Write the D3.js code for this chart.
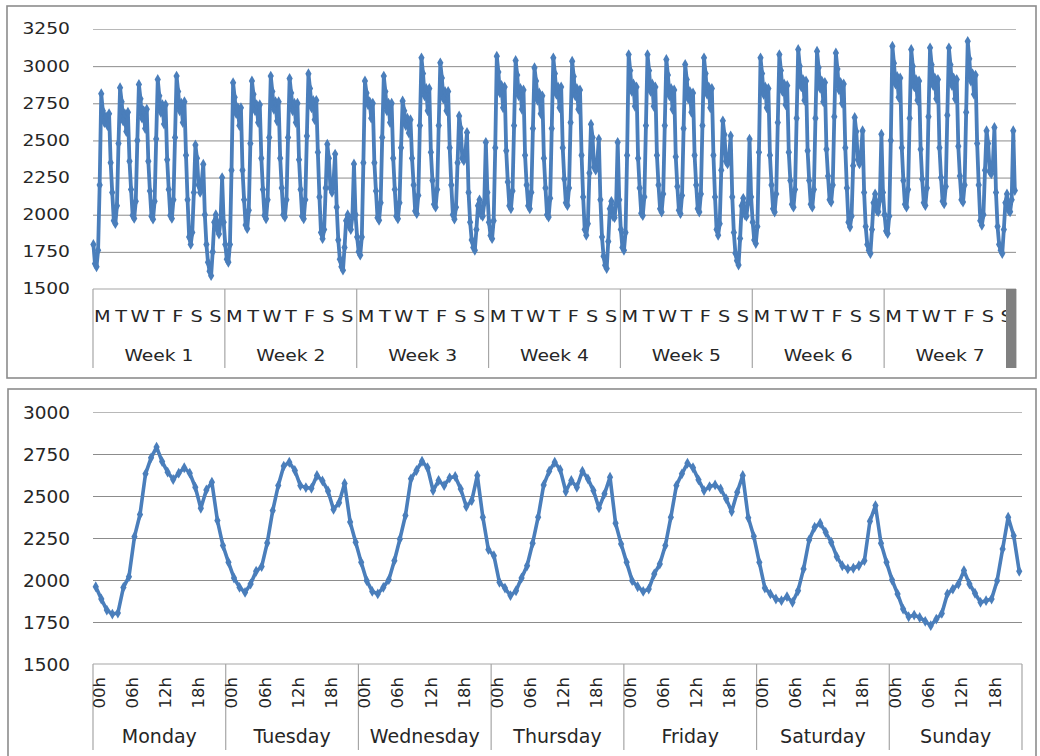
<!DOCTYPE html>
<html>
<head>
<meta charset="utf-8">
<script src="https://cdn.jsdelivr.net/npm/d3@7"></script>
<style>
  html, body { margin: 0; padding: 0; background: #fff; }
  svg { display: block; }
</style>
</head>
<body>
<svg id="chart" width="1040" height="756"></svg>
<script>
// ---------------- DATA ----------------
// Top chart: 7 weeks, 2-hourly samples (00h,02h,...,22h) per day
const topSampleHours = [0, 2, 4, 6, 8, 10, 12, 14, 16, 18, 20, 22];
const weekLabels = ["Week 1", "Week 2", "Week 3", "Week 4", "Week 5", "Week 6", "Week 7"];
const dayLetters = ["M", "T", "W", "T", "F", "S", "S"];
const topYTicks = [1500, 1750, 2000, 2250, 2500, 2750, 3000, 3250];

const week1 = [
  1800,1670,1650,1760,2200,2815,2700,2620,2660,2600,2680,2350,
  2150,1960,1940,2060,2480,2855,2760,2630,2680,2560,2690,2360,
  2170,1995,1975,2090,2500,2877,2780,2650,2700,2580,2710,2360,
  2160,1990,1970,2090,2510,2910,2800,2690,2740,2610,2740,2370,
  2170,1995,1975,2100,2520,2933,2830,2700,2750,2620,2760,2400,
  2100,1850,1800,1880,2150,2470,2380,2200,2150,2220,2340,2000,
  1800,1680,1620,1590,1750,1950,2000,1900,1870,1960,2250,1950
];
const week2 = [
  1800,1700,1680,1800,2300,2888,2790,2680,2720,2600,2720,2300,
  2100,1930,1906,2030,2480,2900,2810,2700,2740,2620,2740,2380,
  2170,1995,1973,2100,2520,2933,2830,2710,2760,2630,2760,2380,
  2180,2000,1984,2100,2520,2917,2820,2700,2750,2620,2750,2370,
  2170,1990,1973,2100,2530,2949,2850,2720,2770,2640,2770,2420,
  2120,1880,1839,1900,2180,2475,2380,2180,2150,2230,2408,2050,
  1830,1700,1650,1627,1780,1960,2000,1920,1900,1990,2342,2000
];
const week3 = [
  1850,1750,1728,1850,2350,2900,2820,2740,2760,2650,2750,2350,
  2160,1980,1962,2080,2520,2933,2830,2700,2750,2620,2750,2380,
  2170,1990,1973,2080,2450,2766,2700,2600,2650,2550,2640,2380,
  2200,2025,2007,2130,2600,3056,2950,2800,2850,2700,2850,2420,
  2230,2070,2051,2170,2600,3022,2920,2780,2830,2700,2830,2450,
  2200,2000,1970,2050,2350,2665,2580,2380,2364,2420,2554,2150,
  1950,1830,1780,1761,1900,2060,2100,2000,1990,2080,2487,2150
];
const week4 = [
  1950,1860,1839,1960,2450,3067,2960,2820,2870,2720,2860,2430,
  2220,2060,2040,2160,2600,3038,2940,2800,2850,2710,2840,2400,
  2200,2060,2040,2150,2580,2989,2900,2770,2820,2680,2800,2380,
  2180,2000,1984,2110,2580,3056,2950,2810,2860,2720,2860,2450,
  2240,2080,2062,2180,2620,3033,2930,2800,2850,2710,2840,2400,
  2120,1900,1862,1940,2280,2609,2520,2320,2300,2360,2509,2100,
  1850,1720,1660,1638,1820,2040,2090,1990,1980,2070,2487,2100
];
const week5 = [
  1900,1780,1761,1880,2400,3078,2970,2830,2880,2730,2860,2380,
  2180,2010,1995,2120,2600,3078,2970,2830,2880,2730,2860,2400,
  2200,2040,2018,2140,2600,3045,2940,2800,2850,2710,2840,2390,
  2190,2030,2007,2130,2580,3011,2910,2780,2830,2690,2820,2400,
  2200,2040,2018,2140,2600,3056,2950,2810,2860,2720,2850,2400,
  2120,1900,1862,1940,2300,2632,2540,2360,2342,2400,2531,2120,
  1880,1740,1690,1661,1840,2060,2110,2000,1990,2080,2509,2120
];
const week6 = [
  1950,1830,1806,1920,2420,3056,2950,2810,2860,2720,2850,2400,
  2200,2040,2018,2140,2620,3078,2970,2830,2880,2740,2870,2420,
  2230,2070,2051,2170,2650,3112,3000,2860,2910,2770,2900,2430,
  2230,2070,2051,2170,2650,3100,2990,2850,2900,2760,2890,2440,
  2260,2100,2085,2200,2660,3089,2980,2840,2890,2750,2880,2450,
  2180,1950,1917,1990,2330,2654,2560,2370,2342,2410,2565,2150,
  1920,1800,1760,1739,1900,2080,2140,2030,2020,2100,2542,2150
];
const week7 = [
  2000,1890,1873,1990,2500,3134,3020,2880,2930,2790,2920,2450,
  2230,2070,2051,2170,2650,3112,3000,2860,2910,2770,2900,2440,
  2240,2080,2062,2180,2660,3123,3010,2870,2920,2780,2910,2450,
  2250,2090,2074,2190,2670,3123,3010,2870,2920,2780,2910,2460,
  2260,2100,2085,2200,2690,3167,3050,2900,2950,2810,2940,2480,
  2200,1960,1929,2000,2300,2565,2480,2290,2275,2340,2587,2150,
  1920,1800,1760,1739,1900,2080,2140,2030,2020,2100,2565,2163
];
const weeks = [week1, week2, week3, week4, week5, week6, week7];

// Bottom chart: one week, hourly
const dayNames = ["Monday", "Tuesday", "Wednesday", "Thursday", "Friday", "Saturday", "Sunday"];
const hourLabels = ["00h", "06h", "12h", "18h"];
const hourLabelHours = [0, 6, 12, 18];
const bottomYTicks = [1500, 1750, 2000, 2250, 2500, 2750, 3000];

const monday    = [1960,1887,1821,1797,1803,1956,2020,2258,2390,2632,2727,2791,2705,2642,2598,2636,2668,2636,2552,2427,2536,2582,2354,2205];
const tuesday   = [2105,2012,1956,1926,1976,2052,2080,2220,2413,2562,2678,2701,2652,2562,2550,2546,2622,2590,2530,2420,2460,2575,2345,2225];
const wednesday = [2105,1996,1932,1917,1956,2002,2115,2244,2384,2602,2652,2707,2668,2532,2592,2562,2608,2616,2542,2437,2473,2622,2374,2181];
const thursday  = [2145,1986,1952,1907,1936,2012,2085,2219,2374,2566,2648,2701,2656,2527,2592,2552,2648,2602,2532,2429,2513,2612,2338,2215];
const friday    = [2105,1996,1960,1932,1946,2036,2095,2205,2374,2562,2632,2695,2668,2596,2532,2556,2566,2542,2483,2407,2523,2622,2370,2260];
const saturday  = [2105,1952,1917,1887,1877,1901,1867,1936,2066,2238,2314,2338,2284,2225,2139,2085,2066,2070,2085,2115,2350,2443,2219,2105];
const sunday    = [2000,1917,1827,1781,1791,1777,1754,1728,1767,1801,1917,1946,1976,2056,1976,1921,1867,1877,1887,1996,2185,2374,2264,2052];
const days = [monday, tuesday, wednesday, thursday, friday, saturday, sunday];

// ---------------- DRAW ----------------
(function () {
const svg = d3.select("#chart");
const FONT = "DejaVu Sans";
const TXT = "#262626";
const LINE = "#4a7ebb";
const GRID = "#8c8c8c";
const AXIS = "#a6a6a6";

svg.append("rect").attr("width", 1040).attr("height", 756).attr("fill", "#fff");

function label(g, x, y, text, size, sx, sy, anchor, dy) {
  return g.append("text")
    .attr("transform", `translate(${x},${y}) scale(${sx},${sy})`)
    .attr("text-anchor", anchor)
    .attr("dy", dy || 0)
    .style("font-family", FONT)
    .style("font-size", size + "px")
    .attr("fill", TXT)
    .text(text);
}

// ===== TOP PANEL =====
const gTop = svg.append("g");
gTop.append("rect").attr("x", 7).attr("y", 6).attr("width", 1029).attr("height", 372)
  .attr("fill", "none").attr("stroke", GRID).attr("stroke-width", 1.6);

const tL = 93, tR = 1016, tT = 29, tB = 289;
const nHoursTop = 7 * 7 * 24;
const xT = d3.scaleLinear().domain([0, nHoursTop]).range([tL, tR]);
const yT = d3.scaleLinear().domain([1500, 3250]).range([tB, tT]);

const gridT = gTop.append("g").attr("transform", `translate(${tL},0)`)
  .call(d3.axisLeft(yT).tickValues(topYTicks.slice(1)).tickSize(-(tR - tL)).tickFormat(""));
gridT.select(".domain").remove();
gridT.selectAll(".tick line").attr("stroke", GRID).attr("stroke-width", 1);
gridT.selectAll(".tick").filter(d => d === 3250).select("line").attr("stroke", "#b8b8b8");

topYTicks.forEach(v => label(gTop, 70, yT(v), String(v), 17, 1.1, 0.89, "end", "0.36em"));

gTop.append("line").attr("x1", tL).attr("x2", tR).attr("y1", tB).attr("y2", tB)
  .attr("stroke", AXIS).attr("stroke-width", 1.2);
for (let k = 0; k <= 7; k++) {
  const x = xT(k * 7 * 24);
  gTop.append("line").attr("x1", x).attr("x2", x).attr("y1", tB).attr("y2", 368)
    .attr("stroke", AXIS).attr("stroke-width", 1.2);
}
weeks.forEach((wk, w) => {
  dayLetters.forEach((dl, d) => {
    label(gTop, xT((w * 7 + d) * 24 + 12), 322, dl, 17.5, 1.1, 0.92, "middle");
  });
  label(gTop, xT(w * 7 * 24 + 84), 361, weekLabels[w], 17, 1.1, 0.92, "middle");
});
gTop.append("rect").attr("x", 1006).attr("y", tB).attr("width", tR - 1006).attr("height", 368 - tB)
  .attr("fill", "#808080");

const topPts = [];
weeks.forEach((wk, w) => {
  for (let d = 0; d < 7; d++) {
    topSampleHours.forEach((h, k) => {
      topPts.push({ i: (w * 7 + d) * 24 + h, v: wk[d * 12 + k] });
    });
  }
});
gTop.append("path").datum(topPts)
  .attr("d", d3.line().x(p => xT(p.i + 0.5)).y(p => yT(p.v)))
  .attr("fill", "none").attr("stroke", LINE).attr("stroke-width", 3.8).attr("stroke-linejoin", "round");
gTop.append("g").selectAll("path").data(topPts).join("path")
  .attr("transform", p => `translate(${xT(p.i + 0.5)},${yT(p.v)})`)
  .attr("d", d3.symbol(d3.symbolDiamond, 34)())
  .attr("fill", LINE);

// ===== BOTTOM PANEL =====
const gBot = svg.append("g");
gBot.append("rect").attr("x", 8).attr("y", 389).attr("width", 1028).attr("height", 420)
  .attr("fill", "none").attr("stroke", GRID).attr("stroke-width", 1.6);

const bL = 93, bR = 1022, bT = 412, bB = 664;
const xB = d3.scaleLinear().domain([0, 168]).range([bL, bR]);
const yB = d3.scaleLinear().domain([1500, 3000]).range([bB, bT]);

const gridB = gBot.append("g").attr("transform", `translate(${bL},0)`)
  .call(d3.axisLeft(yB).tickValues(bottomYTicks.slice(1)).tickSize(-(bR - bL)).tickFormat(""));
gridB.select(".domain").remove();
gridB.selectAll(".tick line").attr("stroke", GRID).attr("stroke-width", 1);
gridB.selectAll(".tick").filter(d => d === 3000).select("line").attr("stroke", "#b8b8b8");

bottomYTicks.forEach(v => label(gBot, 70, yB(v), String(v), 18.5, 1, 1, "end", "0.36em"));

gBot.append("line").attr("x1", bL).attr("x2", bR).attr("y1", bB).attr("y2", bB)
  .attr("stroke", AXIS).attr("stroke-width", 1.2);
for (let d = 0; d <= 7; d++) {
  const x = xB(d * 24);
  gBot.append("line").attr("x1", x).attr("x2", x).attr("y1", bB).attr("y2", 750)
    .attr("stroke", AXIS).attr("stroke-width", 1.2);
}
dayNames.forEach((name, d) => {
  hourLabelHours.forEach((h, k) => {
    const xc = xB(d * 24 + h + 0.5) + 3;
    gBot.append("text")
      .attr("transform", `translate(${xc},677) rotate(-90)`)
      .attr("text-anchor", "end")
      .attr("dy", "0.36em")
      .style("font-family", FONT).style("font-size", "16.5px")
      .attr("fill", TXT)
      .text(hourLabels[k]);
  });
  label(gBot, xB(d * 24 + 12), 743, name, 19, 1, 1, "middle");
});

const botPts = [];
days.forEach((arr, d) => arr.forEach((v, h) => botPts.push({ i: d * 24 + h, v })));
gBot.append("path").datum(botPts)
  .attr("d", d3.line().x(p => xB(p.i + 0.5)).y(p => yB(p.v)))
  .attr("fill", "none").attr("stroke", LINE).attr("stroke-width", 3.6).attr("stroke-linejoin", "round");
gBot.append("g").selectAll("path").data(botPts).join("path")
  .attr("transform", p => `translate(${xB(p.i + 0.5)},${yB(p.v)})`)
  .attr("d", d3.symbol(d3.symbolDiamond, 34)())
  .attr("fill", LINE);
})();
</script>
</body>
</html>
